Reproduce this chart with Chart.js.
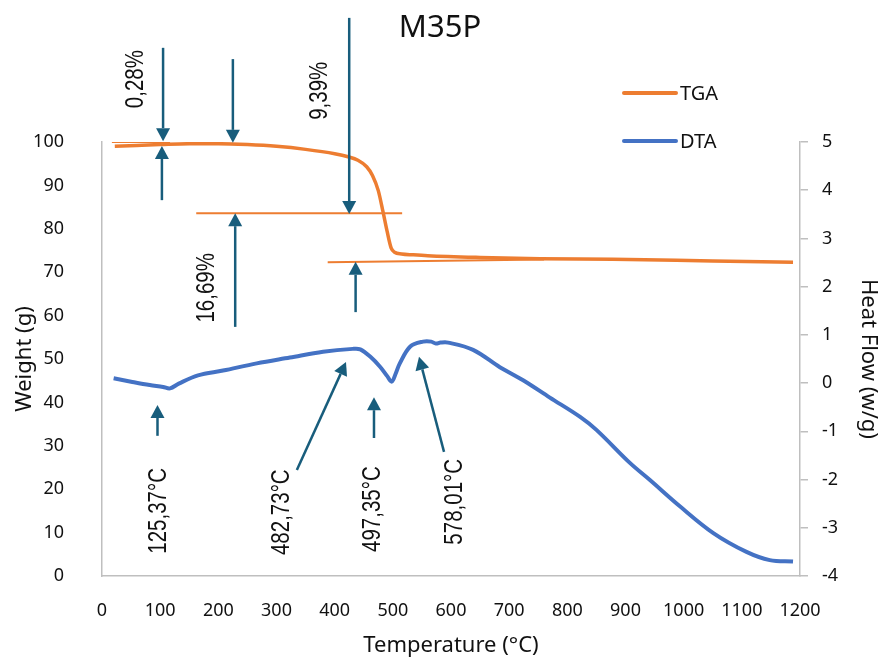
<!DOCTYPE html>
<html>
<head>
<meta charset="utf-8">
<title>M35P</title>
<script src="https://cdn.jsdelivr.net/npm/chart.js@4.4.1/dist/chart.umd.min.js"></script>
<style>
  html, body { margin: 0; padding: 0; background: #fff; }
  #wrap { width: 880px; height: 659px; }
</style>
</head>
<body>
<div id="wrap"><canvas id="tgaChart"></canvas></div>
<script>
// TGA: weight vs temperature
const tgaTemp   = [22, 60, 100, 150, 200, 250, 300, 350, 400, 423, 440, 455, 465, 475, 483, 490, 497, 503, 515, 535, 560, 650, 753, 878, 1050, 1188];
const tgaWeight = [99.0, 99.2, 99.4, 99.6, 99.6, 99.4, 99.0, 98.3, 97.3, 96.6, 95.8, 94.3, 92.3, 88.8, 84.0, 79.5, 75.6, 74.6, 74.2, 74.0, 73.8, 73.4, 73.1, 73.0, 72.6, 72.3];

// DTA: heat flow vs temperature
const dtaTemp = [20, 50, 82, 105, 117, 132, 165, 208, 266, 323, 380, 431, 444, 461, 478, 490, 498, 505, 512, 530, 552, 566, 574, 582, 595, 638, 684, 724, 770, 822, 850, 908, 942, 994, 1051, 1108, 1148, 1188];
const dtaHeat = [0.10, 0.03, -0.04, -0.08, -0.11, -0.01, 0.16, 0.26, 0.41, 0.53, 0.65, 0.71, 0.70, 0.55, 0.34, 0.15, 0.03, 0.20, 0.41, 0.76, 0.86, 0.86, 0.82, 0.84, 0.84, 0.69, 0.33, 0.06, -0.30, -0.70, -0.97, -1.66, -2.01, -2.56, -3.11, -3.50, -3.67, -3.70];

// tangent lines on the TGA curve [temp, weight]
const tangentTop    = [[17, 100.0], [117, 100.0]];
const tangentMiddle = [[162, 83.6], [516, 83.6]];
const tangentBottom = [[388, 72.3], [760, 72.9]];

// arrows [fromTemp, fromWeight, toTemp, toWeight] (left axis units)
const arrows = [
  [105, 121.7, 105, 100.2],
  [103, 86.6, 103, 99.1],
  [225, 119.1, 225, 99.8],
  [425, 128.6, 425, 83.4],
  [229, 57.4, 229, 83.6],
  [436, 60.8, 436, 72.4],
  [95.4, 32.3, 95.4, 39.4],
  [335, 24.4, 419.5, 49.3],
  [467.6, 31.8, 467.6, 41.2],
  [588, 28.6, 545, 50.5]
];

// rotated notes [text, temp, weight]
const notes = [
  ['0,28%', 58.5, 114.5],
  ['9,39%', 374.8, 111.8],
  ['16,69%', 180.5, 66.4],
  ['125,37°C', 98, 15],
  ['482,73°C', 309.4, 14.7],
  ['497,35°C', 465.9, 15.4],
  ['578,01°C', 606.8, 17.1]
];

const orange = '#ED7D31';
const blue = '#4472C4';
const arrowColor = '#185d7c';
const axisColor = '#bfbfbf';
const textColor = '#111';
const tickFont = { family: '"Noto Sans", sans-serif', size: 18 };
const titleFont = { family: '"Noto Sans", sans-serif', size: 22, lineHeight: 1 };
const plainNumber = v => String(v);

const toXY = (xs, ys) => xs.map((x, i) => ({ x: x, y: ys[i] }));
const pairs = arr => arr.map(p => ({ x: p[0], y: p[1] }));

const annotations = {
  id: 'annotations',
  afterDatasetsDraw(chart) {
    const { ctx, scales } = chart;
    const px = t => scales.x.getPixelForValue(t);
    const py = w => scales.y.getPixelForValue(w);
    ctx.save();
    ctx.strokeStyle = arrowColor;
    ctx.fillStyle = arrowColor;
    ctx.lineWidth = 2.5;
    arrows.forEach(a => {
      const x1 = px(a[0]), y1 = py(a[1]), x2 = px(a[2]), y2 = py(a[3]);
      const ang = Math.atan2(y2 - y1, x2 - x1);
      const len = 13, half = 7;
      const bx = x2 - len * Math.cos(ang), by = y2 - len * Math.sin(ang);
      ctx.beginPath();
      ctx.moveTo(x1, y1);
      ctx.lineTo(bx, by);
      ctx.stroke();
      ctx.beginPath();
      ctx.moveTo(x2, y2);
      ctx.lineTo(bx + half * Math.sin(ang), by - half * Math.cos(ang));
      ctx.lineTo(bx - half * Math.sin(ang), by + half * Math.cos(ang));
      ctx.closePath();
      ctx.fill();
    });
    // condensed rotated labels
    ctx.fillStyle = textColor;
    ctx.font = '25px "Liberation Sans", Arial, sans-serif';
    ctx.textAlign = 'center';
    ctx.textBaseline = 'middle';
    notes.forEach(n => {
      ctx.save();
      ctx.translate(px(n[1]), py(n[2]));
      ctx.rotate(-Math.PI / 2);
      ctx.scale(0.82, 1);
      ctx.fillText(n[0], 0, 0);
      ctx.restore();
    });

    // legend
    ctx.lineWidth = 4;
    ctx.lineCap = 'round';
    ctx.font = '20px "Noto Sans", sans-serif';
    ctx.textAlign = 'left';
    ctx.textBaseline = 'alphabetic';
    [[chart.data.datasets[0], 93], [chart.data.datasets[1], 141]].forEach(([ds, y]) => {
      ctx.strokeStyle = ds.borderColor;
      ctx.beginPath();
      ctx.moveTo(624, y);
      ctx.lineTo(676, y);
      ctx.stroke();
      ctx.fillStyle = textColor;
      ctx.fillText(ds.label, 680, y + 6.5);
    });
    ctx.restore();
  }
};

const config = {
  type: 'line',
  data: {
    datasets: [
      { label: 'TGA', data: toXY(tgaTemp, tgaWeight), yAxisID: 'y', borderColor: orange, borderWidth: 3.5, cubicInterpolationMode: 'monotone', pointRadius: 0, order: 1 },
      { label: 'DTA', data: toXY(dtaTemp, dtaHeat), yAxisID: 'y1', borderColor: blue, borderWidth: 4, tension: 0.35, pointRadius: 0, order: 0 },
      { label: 'tangent1', data: pairs(tangentTop), yAxisID: 'y', borderColor: orange, borderWidth: 2, pointRadius: 0, order: 2 },
      { label: 'tangent2', data: pairs(tangentMiddle), yAxisID: 'y', borderColor: orange, borderWidth: 2, pointRadius: 0, order: 2 },
      { label: 'tangent3', data: pairs(tangentBottom), yAxisID: 'y', borderColor: orange, borderWidth: 2, pointRadius: 0, order: 2 }
    ]
  },
  options: {
    responsive: true,
    maintainAspectRatio: false,
    animation: false,
    layout: { padding: 0 },
    plugins: {
      legend: { display: false },
      tooltip: { enabled: false },
      title: {
        display: true,
        text: 'M35P',
        color: textColor,
        font: { family: '"Noto Sans", sans-serif', size: 31, weight: 'normal', lineHeight: 1.2 },
        padding: { top: 10, bottom: 94.8 }
      }
    },
    scales: {
      x: {
        type: 'linear',
        min: 0, max: 1200,
        afterFit: s => { s.height = 83; },
        ticks: { stepSize: 100, color: textColor, font: tickFont, padding: 16, maxRotation: 0, callback: plainNumber },
        grid: { display: false },
        border: { color: axisColor, width: 1.5 },
        title: { display: true, text: 'Temperature (°C)', color: textColor, font: titleFont, padding: { top: 0, bottom: 2 } }
      },
      y: {
        position: 'left',
        min: 0, max: 100,
        afterFit: s => { s.width = 102; },
        ticks: { stepSize: 10, color: textColor, font: tickFont, padding: 30, callback: plainNumber },
        grid: { display: false },
        border: { color: axisColor, width: 1.5 },
        title: { display: true, text: 'Weight (g)', color: textColor, font: titleFont, padding: { top: 14, bottom: 0 } }
      },
      y1: {
        position: 'right',
        min: -4, max: 5,
        afterFit: s => { s.width = 80; },
        ticks: { stepSize: 1, color: textColor, font: tickFont, padding: 14, callback: plainNumber },
        grid: { display: true, drawOnChartArea: false, drawTicks: true, tickLength: 8, color: axisColor, lineWidth: 1.5 },
        border: { color: axisColor, width: 1.5 },
        title: { display: true, text: 'Heat Flow (w/g)', color: textColor, font: titleFont, padding: { top: 1, bottom: 0 } }
      }
    }
  },
  plugins: [annotations]
};

const tgaChart = new Chart(document.getElementById('tgaChart'), config);
</script>
</body>
</html>
